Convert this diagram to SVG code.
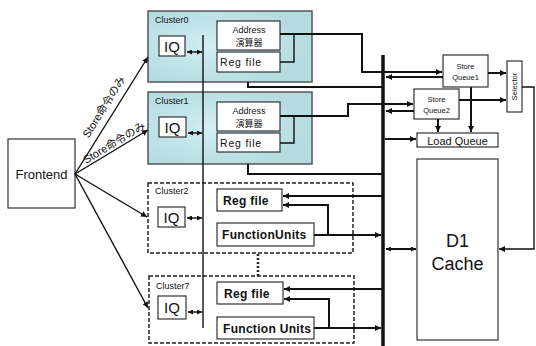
<svg xmlns="http://www.w3.org/2000/svg" width="536" height="346" viewBox="0 0 536 346">
  <defs>
    <radialGradient id="clusterFill" cx="0.4" cy="0.5" r="0.6">
      <stop offset="0" stop-color="#d3edf7"/>
      <stop offset="1" stop-color="#b3dbe0"/>
    </radialGradient>
    <marker id="ah" viewBox="0 0 6 6" refX="6" refY="3" markerWidth="6" markerHeight="6" markerUnits="userSpaceOnUse" orient="auto-start-reverse">
      <path d="M0,0 L6,3 L0,6 z" fill="#111"/>
    </marker>
    <marker id="ahs" viewBox="0 0 6 6" refX="6" refY="3" markerWidth="5" markerHeight="5" markerUnits="userSpaceOnUse" orient="auto-start-reverse">
      <path d="M0,0 L6,3 L0,6 z" fill="#111"/>
    </marker>
  </defs>
  <style>
    text { font-family: "Liberation Sans", "Noto Sans CJK JP", sans-serif; fill: #111; }
    .box { fill: #fff; stroke: #333; stroke-width: 1.2; }
    .cl { fill: url(#clusterFill); stroke: #555; stroke-width: 1.5; }
    .dash { fill: none; stroke: #222; stroke-width: 1.5; stroke-dasharray: 4 2; }
    .lbl { font-size: 9px; }
    .iq { font-size: 15px; text-anchor: middle; }
    .small { font-size: 9px; text-anchor: middle; }
    .rf { font-size: 10.5px; letter-spacing: 0.8px; }
    .bold { font-size: 12px; font-weight: bold; letter-spacing: 0.3px; }
    .sq { font-size: 7.5px; text-anchor: middle; }
    .ln { fill: none; stroke: #111; stroke-width: 2; }
    .thin { fill: none; stroke: #111; stroke-width: 1.4; }
    .arr { marker-end: url(#ah); }
    .dbl { marker-start: url(#ahs); marker-end: url(#ahs); }
  </style>

  <!-- Frontend -->
  <g id="frontend">
    <rect class="box" x="8" y="139" width="67" height="69"/>
    <text x="41.5" y="179" font-size="13" text-anchor="middle">Frontend</text>
  </g>

  <!-- Cluster0 -->
  <g id="cluster0">
    <rect class="cl" x="148" y="11" width="164" height="71"/>
    <text class="lbl" x="155" y="23">Cluster0</text>
    <rect class="box" x="159" y="36" width="26" height="20"/>
    <text class="iq" x="172" y="52">IQ</text>
    <rect class="box" x="217" y="21" width="63" height="29"/>
    <text class="small" x="249" y="33">Address</text>
    <text class="small" x="249" y="46">演算器</text>
    <rect class="box" x="217" y="52" width="63" height="20"/>
    <text class="rf" x="220" y="66">Reg file</text>
  </g>

  <!-- Cluster1 -->
  <g id="cluster1">
    <rect class="cl" x="148" y="92" width="164" height="72"/>
    <text class="lbl" x="155" y="104">Cluster1</text>
    <rect class="box" x="159" y="117" width="27" height="20"/>
    <text class="iq" x="172.5" y="133">IQ</text>
    <rect class="box" x="217" y="102" width="63" height="29"/>
    <text class="small" x="249" y="114">Address</text>
    <text class="small" x="249" y="127">演算器</text>
    <rect class="box" x="217" y="133" width="63" height="19"/>
    <text class="rf" x="220" y="147">Reg file</text>
  </g>

  <!-- Cluster2 -->
  <g id="cluster2">
    <rect class="dash" x="148" y="183" width="205" height="70"/>
    <text class="lbl" x="155" y="194">Cluster2</text>
    <rect class="box" x="158" y="207" width="27" height="20"/>
    <text class="iq" x="171.5" y="223">IQ</text>
    <rect class="box" x="217" y="189" width="65" height="22"/>
    <text class="bold" x="223" y="205">Reg file</text>
    <rect class="box" x="217" y="223" width="97" height="23"/>
    <text class="bold" x="222" y="239">FunctionUnits</text>
  </g>

  <!-- Cluster7 -->
  <g id="cluster7">
    <rect class="dash" x="149" y="276" width="205" height="67"/>
    <text class="lbl" x="156" y="289">Cluster7</text>
    <rect class="box" x="158" y="296" width="28" height="23"/>
    <text class="iq" x="172" y="313">IQ</text>
    <rect class="box" x="217" y="282" width="66" height="22"/>
    <text class="bold" x="224" y="298">Reg file</text>
    <rect class="box" x="217" y="317" width="97" height="22"/>
    <text class="bold" x="223" y="333">Function Units</text>
  </g>

  <!-- Store queues, selector, load queue, cache -->
  <g id="storequeue1">
    <rect class="box" x="443" y="55" width="45" height="32"/>
    <text class="sq" x="465.5" y="69">Store</text>
    <text class="sq" x="465.5" y="80">Queue1</text>
  </g>
  <g id="storequeue2">
    <rect class="box" x="414" y="89" width="45" height="30"/>
    <text class="sq" x="436.5" y="102">Store</text>
    <text class="sq" x="436.5" y="113">Queue2</text>
  </g>
  <g id="selector">
    <rect class="box" x="507" y="61" width="15" height="51"/>
    <text class="sq" transform="translate(517 86.5) rotate(-90)">Selector</text>
  </g>
  <g id="loadqueue">
    <rect class="box" x="417" y="133" width="81" height="14"/>
    <text x="457.5" y="144.5" font-size="11" text-anchor="middle">Load Queue</text>
  </g>
  <g id="d1cache">
    <rect class="box" x="417" y="159" width="81" height="181"/>
    <text x="457.5" y="247" font-size="18" text-anchor="middle">D1</text>
    <text x="457.5" y="270" font-size="18" text-anchor="middle">Cache</text>
  </g>

  <!-- Connectors -->
  <g id="connectors">
    <!-- dispatch from frontend -->
    <path class="thin arr" d="M75,174 L148,57"/>
    <path class="thin arr" d="M75,174 L148,130"/>
    <path class="thin arr" d="M75,174 L147,217"/>
    <path class="thin arr" d="M75,174 L148,308"/>
    <text font-size="11" text-anchor="middle" transform="translate(107 109) rotate(-58)">Store命令のみ</text>
    <text font-size="11" text-anchor="middle" transform="translate(116 146) rotate(-31)">Store命令のみ</text>

    <!-- issue queue links -->
    <path class="thin" d="M203,35 L203,328"/>
    <path class="thin dbl" d="M187,52 L202,52"/>
    <path class="thin dbl" d="M188,133 L202,133"/>
    <path class="thin dbl" d="M187,218 L202,218"/>
    <path class="thin dbl" d="M188,312 L202,312"/>

    <!-- cluster0 -->
    <path class="ln arr" d="M280,34 L362,34 L362,72 L442,72"/>
    <path class="thin" d="M280,62 L294,62 L294,34"/>
    <path class="ln" d="M248,82 L248,87 L383,87"/>
    <!-- cluster1 -->
    <path class="ln arr" d="M280,116 L348,116 L348,104 L413,104"/>
    <path class="thin" d="M280,143 L294,143 L294,116"/>
    <path class="ln" d="M248,164 L248,174 L383,174"/>

    <!-- bus -->
    <path fill="none" stroke="#111" stroke-width="3.5" d="M383,55 L383,346"/>

    <!-- store / load queues -->
    <path class="ln arr" d="M443,77 L386,77"/>
    <path class="ln arr" d="M414,111 L386,111"/>
    <path class="ln arr" d="M385,139 L416,139"/>
    <path class="ln arr" d="M471,87 L471,132"/>
    <path class="ln arr" d="M438,119 L438,132"/>
    <path class="ln arr" d="M488,73 L506,73" stroke-width="2.5"/>
    <path class="ln arr" d="M459,100 L506,100"/>
    <path class="thin arr" d="M522,87 L534,87 L534,249 L499,249"/>
    <path class="ln dbl" d="M386,249 L416,249"/>

    <!-- cluster2 -->
    <path class="ln arr" d="M383,196 L283,196"/>
    <path class="ln arr" d="M314,235 L381,235"/>
    <path class="ln arr" d="M328,235 L328,205 L283,205"/>
    <!-- cluster7 -->
    <path class="ln arr" d="M383,289 L284,289"/>
    <path class="ln arr" d="M314,328 L381,328"/>
    <path class="ln arr" d="M329,328 L329,299 L284,299"/>

    <!-- more clusters between -->
    <path fill="none" stroke="#222" stroke-width="2.5" stroke-dasharray="2 2" d="M258,254 L258,276"/>
  </g>
</svg>
